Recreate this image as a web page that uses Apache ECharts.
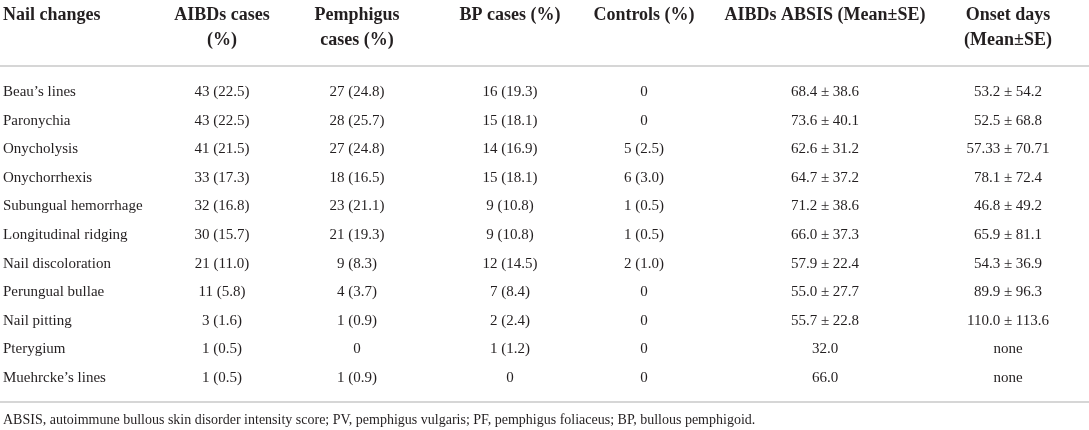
<!DOCTYPE html>
<html>
<head>
<meta charset="utf-8">
<script src="https://cdn.jsdelivr.net/npm/echarts@6/dist/echarts.min.js"></script>
<style>
html,body{margin:0;padding:0;background:#fff;}
#main{width:1089px;height:430px;}
</style>
</head>
<body>
<div id="main"></div>
<script>
// ---- data ----
const columnHeaders = [
  ['Nail changes'],
  ['AIBDs cases', '(%)'],
  ['Pemphigus', 'cases (%)'],
  ['BP cases (%)'],
  ['Controls (%)'],
  ['AIBDs ABSIS (Mean\u00B1SE)'],
  ['Onset days', '(Mean\u00B1SE)']
];
const nailChanges = ['Beau\u2019s lines', 'Paronychia', 'Onycholysis', 'Onychorrhexis', 'Subungual hemorrhage',
  'Longitudinal ridging', 'Nail discoloration', 'Perungual bullae', 'Nail pitting', 'Pterygium', 'Muehrcke\u2019s lines'];
const aibdsCases = ['43 (22.5)', '43 (22.5)', '41 (21.5)', '33 (17.3)', '32 (16.8)', '30 (15.7)', '21 (11.0)', '11 (5.8)', '3 (1.6)', '1 (0.5)', '1 (0.5)'];
const pemphigusCases = ['27 (24.8)', '28 (25.7)', '27 (24.8)', '18 (16.5)', '23 (21.1)', '21 (19.3)', '9 (8.3)', '4 (3.7)', '1 (0.9)', '0', '1 (0.9)'];
const bpCases = ['16 (19.3)', '15 (18.1)', '14 (16.9)', '15 (18.1)', '9 (10.8)', '9 (10.8)', '12 (14.5)', '7 (8.4)', '2 (2.4)', '1 (1.2)', '0'];
const controls = ['0', '0', '5 (2.5)', '6 (3.0)', '1 (0.5)', '1 (0.5)', '2 (1.0)', '0', '0', '0', '0'];
const absis = ['68.4 \u00B1 38.6', '73.6 \u00B1 40.1', '62.6 \u00B1 31.2', '64.7 \u00B1 37.2', '71.2 \u00B1 38.6', '66.0 \u00B1 37.3',
  '57.9 \u00B1 22.4', '55.0 \u00B1 27.7', '55.7 \u00B1 22.8', '32.0', '66.0'];
const onsetDays = ['53.2 \u00B1 54.2', '52.5 \u00B1 68.8', '57.33 \u00B1 70.71', '78.1 \u00B1 72.4', '46.8 \u00B1 49.2', '65.9 \u00B1 81.1',
  '54.3 \u00B1 36.9', '89.9 \u00B1 96.3', '110.0 \u00B1 113.6', 'none', 'none'];
const footnote = 'ABSIS, autoimmune bullous skin disorder intensity score; PV, pemphigus vulgaris; PF, pemphigus foliaceus; BP, bullous pemphigoid.';

// ---- layout ----
const W = 1089, H = 430;
const colX = [3, 222, 357, 510, 644, 825, 1008];
const headerLineY = [15, 40];
const rowY0 = 92, rowStep = 28.6;
const ruleY = [66, 402];
const footY = 420;
const FONT = '"Liberation Serif", "DejaVu Serif", serif';
const TXT = '#231f20';

const columns = [nailChanges, aibdsCases, pemphigusCases, bpCases, controls, absis, onsetDays];

const headerData = [];
columnHeaders.forEach((lines, c) => lines.forEach((t, i) => headerData.push([colX[c], headerLineY[i], t, c])));
const cellData = [];
columns.forEach((col, c) => col.forEach((t, r) => cellData.push([colX[c], rowY0 + r * rowStep, t, c])));
const ruleData = ruleY.map(y => [0, y, W, y]);

function textItem(bold, size) {
  return function (params, api) {
    const p = api.coord([api.value(0), api.value(1)]);
    const c = api.value(3);
    return {
      type: 'text',
      x: p[0], y: p[1],
      style: {
        text: api.value(2),
        fill: TXT,
        font: (bold ? 'bold ' : '') + size + 'px ' + FONT,
        align: c === 0 ? 'left' : 'center',
        verticalAlign: 'middle'
      }
    };
  };
}

const chart = echarts.init(document.getElementById('main'), null, { renderer: 'canvas' });
chart.setOption({
  backgroundColor: '#fff',
  animation: false,
  grid: { left: 0, right: 0, top: 0, bottom: 0 },
  xAxis: { type: 'value', min: 0, max: W, show: false },
  yAxis: { type: 'value', min: 0, max: H, inverse: true, show: false },
  series: [
    {
      type: 'custom', name: 'rules', data: ruleData,
      renderItem: function (params, api) {
        const a = api.coord([api.value(0), api.value(1)]);
        const b = api.coord([api.value(2), api.value(3)]);
        return { type: 'line', shape: { x1: a[0], y1: a[1], x2: b[0], y2: b[1] },
          style: { stroke: '#c8c8c8', lineWidth: 1.5 } };
      }
    },
    { type: 'custom', name: 'headers', data: headerData, renderItem: textItem(true, 18) },
    { type: 'custom', name: 'cells', data: cellData, renderItem: textItem(false, 15) },
    {
      type: 'custom', name: 'footnote', data: [[colX[0], footY, footnote, 0]], renderItem: textItem(false, 14)
    }
  ]
});
</script>
</body>
</html>
